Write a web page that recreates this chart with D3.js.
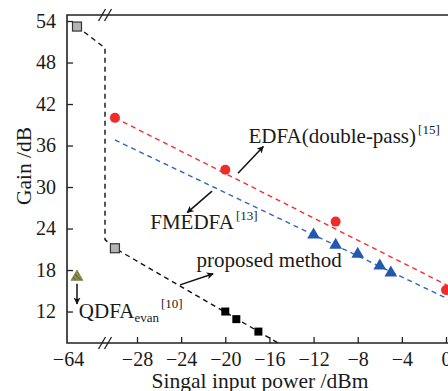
<!DOCTYPE html>
<html>
<head>
<meta charset="utf-8">
<script src="https://cdn.jsdelivr.net/npm/d3@7"></script>
<style>
  html, body { margin: 0; padding: 0; background: #fff; overflow: hidden; }
  svg { display: block; }
  text { font-family: "Liberation Serif", "DejaVu Serif", serif; fill: #1a1a1a; }
</style>
</head>
<body>
<svg id="chart" width="448" height="391"></svg>
<script>
// ---- data (input power in dBm, gain in dB) ----
const xTicks = [-28, -24, -20, -16, -12, -8, -4, 0];
const xLeftTicks = [-64];
const yTicks = [12, 18, 24, 30, 36, 42, 48, 54];

// proposed method: gray = end points, black = measured
const proposedGray = [[-63, 53.2], [-30, 21.15]];
const proposedBlack = [[-20, 12.0], [-19, 10.9], [-17, 9.1]];
const proposedTrend = [[-63, 53.2], [-30.9, 50.1], [-30.9, 22.4], [-30, 21.15], [-15.2, 7.45]];

// EDFA (double-pass) [15]
const edfaPts = [[-30, 40.0], [-20, 32.5], [-10, 25.0], [0, 15.1]];
const edfaFit = [[-30, 40.0], [0.6, 15.4]];

// FMEDFA [13]
const fmedfaPts = [[-12, 23.1], [-10, 21.6], [-8, 20.3], [-6, 18.6], [-5, 17.6]];
const fmedfaFit = [[-30, 36.8], [0.6, 13.5]];

// QDFA_evan [10]
const qdfaPts = [[-63, 17.0]];

// ---- layout ----
const svg = d3.select("#chart");
const mLeft = 67, mTop = 15, mBottom = 343, mRight = 448;
const breakAt = -30.9;

const y = d3.scaleLinear().domain([7.45, 54.87]).range([mBottom, mTop]);
const xR = d3.scaleLinear().domain([-28, 0]).range([137, 446]);
const xL = d3.scaleLinear().domain([-64, -63]).range([68, 77]);
const breakX = xR(breakAt);
const x = v => (v < -45 ? xL(v) : xR(v));

const ink = "#222";

// frame
svg.append("path")
  .attr("d", `M${mRight},${mTop}H${mLeft}V${mBottom}H${mRight}`)
  .attr("fill", "none").attr("stroke", ink).attr("stroke-width", 1.6);

// break marks on top and bottom axes
[mTop, mBottom].forEach(yy => {
  [-3, 3].forEach(off => {
    svg.append("line")
      .attr("x1", breakX + off - 3.5).attr("y1", yy + 6)
      .attr("x2", breakX + off + 3.5).attr("y2", yy - 6)
      .attr("stroke", ink).attr("stroke-width", 1.3);
  });
});

// axes
const xAxis = d3.axisBottom(xR).tickValues(xTicks).tickSize(-6).tickPadding(9)
  .tickFormat(d3.format("d"));
const gx = svg.append("g").attr("transform", `translate(0,${mBottom})`).call(xAxis);
const xAxisL = d3.axisBottom(xL).tickValues(xLeftTicks).tickSize(0).tickPadding(9)
  .tickFormat(d3.format("d"));
const gxl = svg.append("g").attr("transform", `translate(0,${mBottom})`).call(xAxisL);
const yAxis = d3.axisLeft(y).tickValues(yTicks).tickSize(-6).tickPadding(11);
const gy = svg.append("g").attr("transform", `translate(${mLeft},0)`).call(yAxis);

[gx, gxl, gy].forEach(g => {
  g.select(".domain").remove();
  g.selectAll(".tick line").attr("stroke", ink).attr("stroke-width", 1.3);
  g.selectAll(".tick text").attr("font-size", 20)
    .attr("font-family", "Liberation Serif, DejaVu Serif, serif").attr("fill", "#1a1a1a");
});
gxl.selectAll(".tick line").remove();

// axis titles
svg.append("text")
  .attr("x", 260).attr("y", 388).attr("text-anchor", "middle")
  .attr("font-size", 21.5).text("Singal input power /dBm");
svg.append("text")
  .attr("transform", "translate(31,166) rotate(-90)")
  .attr("text-anchor", "middle").attr("font-size", 21.5).text("Gain /dB");

// trend lines
const line = d3.line().x(d => x(d[0])).y(d => y(d[1]));
const dash = "5,4";
svg.append("path").datum(proposedTrend).attr("d", line)
  .attr("fill", "none").attr("stroke", "#111").attr("stroke-width", 1.4).attr("stroke-dasharray", dash);
svg.append("path").datum(edfaFit).attr("d", line)
  .attr("fill", "none").attr("stroke", "#ee3030").attr("stroke-width", 1.4).attr("stroke-dasharray", dash);
svg.append("path").datum(fmedfaFit).attr("d", line)
  .attr("fill", "none").attr("stroke", "#3366bb").attr("stroke-width", 1.4).attr("stroke-dasharray", dash);

// markers
svg.selectAll(".pg").data(proposedGray).enter().append("rect")
  .attr("x", d => x(d[0]) - 4.5).attr("y", d => y(d[1]) - 4.5)
  .attr("width", 9).attr("height", 9)
  .attr("fill", "#b4b4b4").attr("stroke", "#333").attr("stroke-width", 1.2);
svg.selectAll(".pb").data(proposedBlack).enter().append("rect")
  .attr("x", d => x(d[0]) - 4).attr("y", d => y(d[1]) - 4)
  .attr("width", 8).attr("height", 8).attr("fill", "#000");
svg.selectAll(".ed").data(edfaPts).enter().append("circle")
  .attr("cx", d => x(d[0])).attr("cy", d => y(d[1])).attr("r", 5)
  .attr("fill", "#ef2b2b");
const tri = d3.symbol().type(d3.symbolTriangle).size(70);
svg.selectAll(".fm").data(fmedfaPts).enter().append("path")
  .attr("d", tri).attr("transform", d => `translate(${x(d[0])},${y(d[1])})`)
  .attr("fill", "#2458b0");

// hatched olive triangle
const defs = svg.append("defs");
const pat = defs.append("pattern").attr("id", "hatch").attr("patternUnits", "userSpaceOnUse")
  .attr("width", 3.5).attr("height", 3.5).attr("patternTransform", "rotate(-45)");
pat.append("rect").attr("width", 3.5).attr("height", 3.5).attr("fill", "#8c8b4a");
pat.append("line").attr("x1", 0).attr("y1", 0).attr("x2", 0).attr("y2", 3.5)
  .attr("stroke", "#3e3d1e").attr("stroke-width", 1);
svg.selectAll(".qd").data(qdfaPts).enter().append("path")
  .attr("d", d3.symbol().type(d3.symbolTriangle).size(60))
  .attr("transform", d => `translate(${x(d[0])},${y(d[1])})`)
  .attr("fill", "url(#hatch)").attr("stroke", "#77763a").attr("stroke-width", 0.8);

// annotation arrows
defs.append("marker").attr("id", "head").attr("viewBox", "0 0 10 10")
  .attr("refX", 9).attr("refY", 5).attr("markerWidth", 7).attr("markerHeight", 7)
  .attr("orient", "auto-start-reverse").attr("markerUnits", "userSpaceOnUse")
  .append("path").attr("d", "M0,0L10,5L0,10L2.5,5Z").attr("fill", "#111");
const arrows = [
  [[-18.85, 32.0], [-16.55, 35.85]],
  [[-21.2, 29.4], [-23.45, 26.3]],
  [[-24.1, 15.85], [-21.1, 17.45]],
  [[-63, 16.0], [-63, 13.1]]
];
arrows.forEach(a => {
  svg.append("line")
    .attr("x1", x(a[0][0])).attr("y1", y(a[0][1]))
    .attr("x2", x(a[1][0])).attr("y2", y(a[1][1]))
    .attr("stroke", "#111").attr("stroke-width", 1.5).attr("marker-end", "url(#head)");
});

// annotation labels
function label(px, py, main, sub, sup) {
  const t = svg.append("text").attr("x", x(px)).attr("y", y(py)).attr("font-size", 21);
  t.append("tspan").text(main);
  if (sub) t.append("tspan").attr("font-size", 13).attr("dy", 4).text(sub);
  if (sup) t.append("tspan").attr("font-size", 13).attr("dx", 2).attr("dy", sub ? -14 : -9).text(sup);
}
label(-17.9, 36.35, "EDFA(double-pass)", null, "[15]");
label(-26.8, 24.0, "FMEDFA", null, "[13]");
label(-22.6, 18.45, "proposed method", null, null);
label(-62.8, 11.0, "QDFA", "evan", "[10]");
</script>
</body>
</html>
